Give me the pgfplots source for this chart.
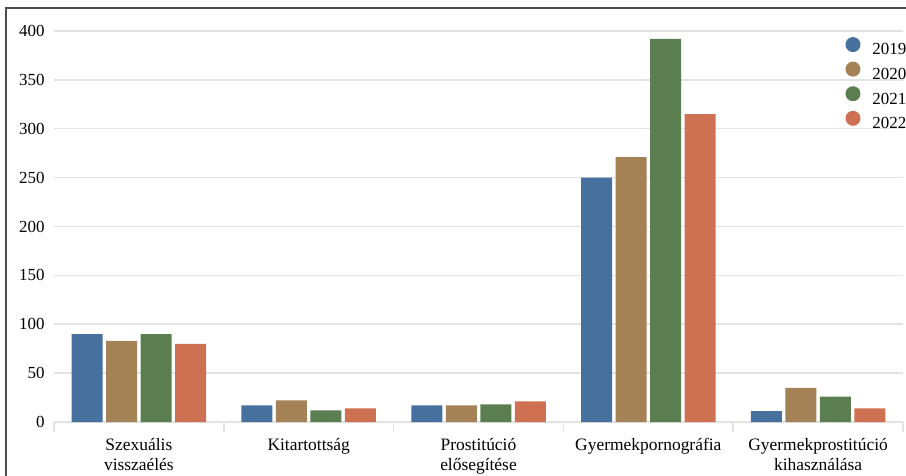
\documentclass[border=0pt]{standalone}
\usepackage{pgfplots}
\pgfplotsset{compat=1.18}
\usepackage{fontspec}
\setmainfont{Liberation Serif}
\definecolor{cA}{HTML}{46709E}
\definecolor{cB}{HTML}{A48256}
\definecolor{cC}{HTML}{5B7E50}
\definecolor{cD}{HTML}{CE7152}
\definecolor{gridc}{HTML}{E3E3E3}
\pgfplotsset{
  dotlegend/.style={legend image code/.code={\fill[##1] (7.5bp,5.5bp) circle (7.5bp);}},
}
\begin{document}
\begin{tikzpicture}
\path[use as bounding box] (0,0) rectangle (906bp,476bp);
\draw[line width=2bp, color=black!70] (6bp,-2bp) -- (6bp,468bp) -- (910bp,468bp);
\begin{axis}[
  at={(54bp,54bp)}, anchor=south west,
  x=169.8bp, y=0.9775bp,
  xmin=-0.5, xmax=4.5, ymin=0, ymax=400,
  ybar=3.5bp, bar width=31bp,
  axis line style={draw=none},
  xtick={-0.5,0.5,1.5,2.5,3.5,4.5},
  xticklabels={{Szexuális\\visszaélés},Kitartottság,{Prostitúció\\elősegítése},Gyermekpornográfia,{Gyermekprostitúció\\kihasználása},{}},
  xticklabel style={xshift=84.9bp, yshift=-3bp, align=center, font=\fontsize{17.5}{20}\selectfont},
  xtick pos=bottom,
  major tick length=10bp,
  x tick style={draw=gridc, line width=1.5bp},
  ytick={0,50,...,400},
  ytick pos=left,
  y tick style={draw=none},
  yticklabel style={xshift=-6bp, font=\fontsize{17}{20}\selectfont},
  /pgf/number format/assume math mode=true,
  ymajorgrids=true,
  grid style={draw=gridc, line width=1.5bp},
  legend style={at={(0.932,0.985)}, anchor=north west, draw=none, fill=none,
    inner sep=0pt, row sep=5.2bp, column sep=12bp, nodes={inner sep=0pt},
    font=\fontsize{17}{20}\selectfont},
  legend cell align=left,
]
\addplot[fill=cA, draw=none, dotlegend] coordinates {(0,90) (1,17) (2,17) (3,250) (4,11)};
\addplot[fill=cB, draw=none, dotlegend] coordinates {(0,83) (1,22) (2,17) (3,271) (4,35)};
\addplot[fill=cC, draw=none, dotlegend] coordinates {(0,90) (1,12) (2,18) (3,392) (4,26)};
\addplot[fill=cD, draw=none, dotlegend] coordinates {(0,80) (1,14) (2,21) (3,315) (4,14)};
\legend{2019,2020,2021,2022}
\end{axis}
\end{tikzpicture}
\end{document}
